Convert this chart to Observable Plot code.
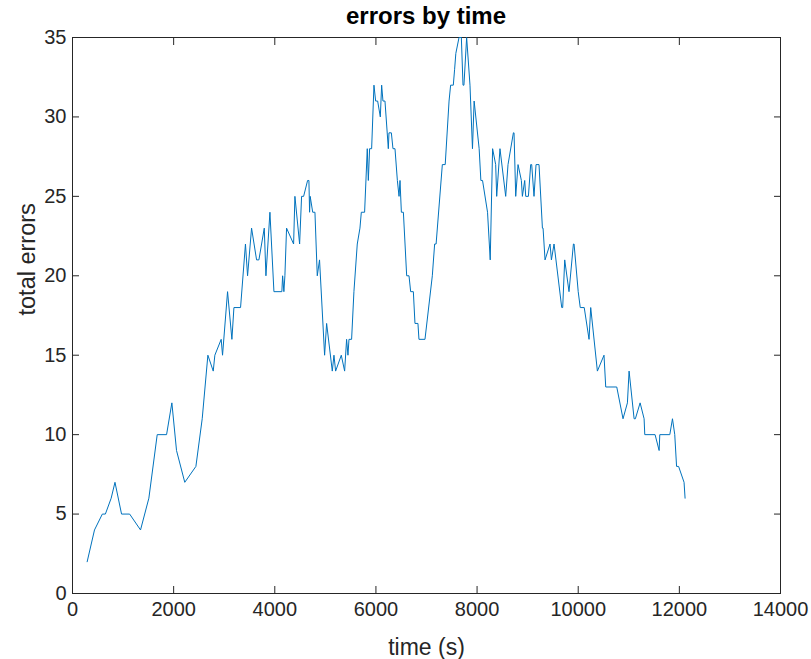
<!DOCTYPE html>
<html>
<head>
<meta charset="utf-8">
<script src="https://cdn.jsdelivr.net/npm/d3@7"></script>
<script src="https://cdn.jsdelivr.net/npm/@observablehq/plot@0.6"></script>
<style>
  html, body { margin: 0; padding: 0; background: white; }
  #title {
    box-sizing: border-box; width: 811px; height: 30px; padding-left: 41px;
    text-align: center; font-family: 'Liberation Sans', Arial, Helvetica, sans-serif;
    font-weight: bold; font-size: 24px; line-height: 32px; color: #000;
  }
</style>
</head>
<body>
<div id="title">errors by time</div>
<div id="chart"></div>
<script>
const times = [290,435,590,650,765,840,970,1130,1345,1510,1675,1860,1965,2057,2220,2440,2565,2677,2783,2815,2940,2967,3066,3152,3192,3323,3420,3462,3541,3640,3686,3792,3825,3904,3983,4140,4155,4180,4200,4233,4372,4398,4491,4530,4570,4649,4675,4688,4700,4750,4794,4840,4885,4985,5025,5137,5170,5203,5315,5381,5420,5447,5467,5519,5565,5631,5684,5711,5776,5829,5850,5875,5915,5961,5994,6034,6087,6113,6139,6179,6245,6258,6305,6337,6377,6424,6457,6476,6503,6543,6608,6654,6687,6740,6772,6831,6851,6970,7115,7161,7190,7313,7370,7446,7477,7530,7556,7580,7643,7689,7722,7740,7794,7860,7909,7942,8041,8075,8108,8207,8260,8307,8368,8388,8453,8566,8612,8718,8731,8764,8810,8876,8896,8942,8962,9015,9060,9080,9126,9166,9225,9292,9305,9344,9443,9470,9522,9674,9693,9733,9818,9905,9918,10000,10040,10119,10214,10247,10379,10510,10544,10762,10886,10973,11006,11105,11130,11224,11303,11316,11520,11600,11613,11811,11864,11909,11945,11985,12093,12113];
const errors = [2,4,5,5,6,7,5,5,4,6,10,10,12,9,7,8,11,15,14,15,16,15,19,16,18,18,22,20,23,21,21,23,20,24,19,19,20,19,20,23,22,25,22,25,25,26,26,24,25,24,24,20,21,15,17,14,15,14,15,14,16,15,16,16,19,22,23,24,24,28,26,28,28,32,31,31,30,32,31,31,28,29,29,28,28,26,25,26,24,24,20,20,19,19,17,17,16,16,20,22,22,27,27,31,32,32,33,34,35,35,32,32,35,32,28,31,28,26,26,24,21,28,27,25,28,25,27,29,29,25,27,26,25,26,25,25,27,27,25,27,27,23,23,21,22,21,22,18,18,21,19,22,22,19,18,18,16,18,14,15,13,13,11,12,14,11,11,12,11,10,10,9,10,10,11,10,8,8,7,6];
const xTicks = [0,2000,4000,6000,8000,10000,12000,14000];
const yTicks = [0,5,10,15,20,25,30,35];
const xLabel = "time (s)";
const yLabel = "total errors";

const data = times.map((t, i) => ({t, v: errors[i]}));
const axisColor = "#262626";
const fmt = d => String(d);

const chart = Plot.plot({
  width: 811,
  height: 629,
  marginTop: 7,
  marginRight: 31,
  marginBottom: 66,
  marginLeft: 72,
  style: {
    fontFamily: "'Liberation Sans', Arial, Helvetica, sans-serif",
    fontSize: "20px",
    color: axisColor,
    background: "white",
    overflow: "visible"
  },
  x: {domain: [0, 14000]},
  y: {domain: [0, 35]},
  marks: [
    Plot.frame({stroke: axisColor}),
    Plot.axisX(xTicks, {anchor: "bottom", tickSize: -7, tickPadding: 15, label: null, fontSize: 20, tickFormat: fmt}),
    Plot.axisX(xTicks, {anchor: "top", tickSize: -7, tickFormat: () => "", label: null}),
    Plot.axisY(yTicks, {anchor: "left", tickSize: -7, tickPadding: 13, label: null, fontSize: 20, tickFormat: fmt}),
    Plot.axisY(yTicks, {anchor: "right", tickSize: -7, tickFormat: () => "", label: null}),
    Plot.line(data, {x: "t", y: "v", stroke: "#0072BD", strokeWidth: 1}),
    Plot.text([xLabel], {text: d => d, frameAnchor: "bottom", dy: 54, lineAnchor: "middle", fontSize: 23, fill: axisColor}),
    Plot.text([yLabel], {text: d => d, frameAnchor: "left", dx: -45, rotate: -90, lineAnchor: "middle", fontSize: 23.5, fill: axisColor})
  ]
});
document.getElementById("chart").appendChild(chart);
</script>
</body>
</html>
